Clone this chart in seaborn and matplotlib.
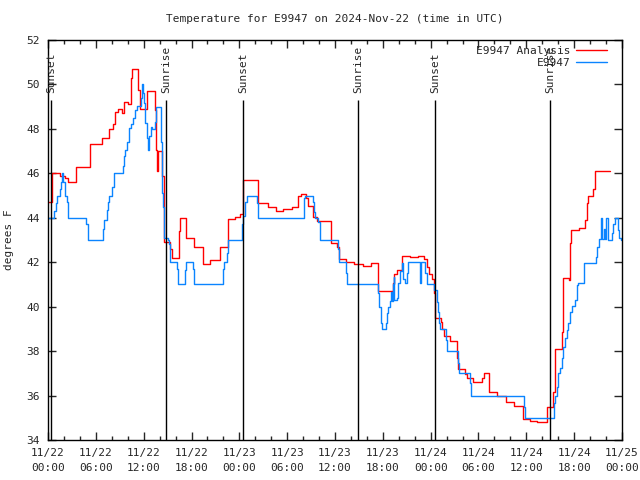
import matplotlib
matplotlib.use("Agg")
import matplotlib.pyplot as plt
import pandas as pd
import seaborn as sns

# hours after 2024-11-22 00:00 UTC, temperature in F
analysis_hours = [0, 0.46, 1.5, 2.13, 2.5, 3.5, 5.27, 6.77, 7.65, 8.15, 8.4, 8.78, 9.28, 9.53,
                  10.0, 10.4, 10.54, 11.29, 11.54, 12.42, 13.42, 13.55, 13.67, 13.8, 14.3, 14.55,
                  15.3, 15.55, 16.43, 16.56, 17.31, 18.31, 19.44, 20.32, 21.58, 22.58, 23.46,
                  24.08, 24.46, 26.34, 27.59, 28.6, 29.48, 30.61, 31.36, 31.74, 32.36, 32.61,
                  33.24, 33.74, 35.5, 36.25, 36.5, 37.38, 38.38, 39.51, 40.52, 41.39, 43.28,
                  43.4, 43.78, 44.4, 45.41, 46.41, 47.16, 47.54, 47.79, 48.17, 48.42, 48.54,
                  49.3, 49.42, 49.67, 50.43, 51.3, 51.43, 52.31, 52.56, 53.31, 54.44, 54.69,
                  55.32, 56.32, 57.45, 58.46, 59.58, 60.46, 61.34, 62.6, 63.35, 63.6, 64.47,
                  64.55, 64.6, 65.35, 65.48, 65.61, 66.61, 67.36, 67.61, 67.74, 68.37, 68.61,
                  70.5]
analysis_temp = [44.7, 46.0, 45.9, 45.8, 45.6, 46.3, 47.3, 47.6, 48.0, 48.2, 48.75, 48.9, 48.7, 49.2,
                 49.1, 50.3, 50.7, 49.75, 48.9, 49.7, 48.85, 47.05, 46.1, 47.0, 45.9, 42.9,
                 42.6, 42.2, 43.4, 44.0, 43.1, 42.7, 41.9, 42.1, 42.7, 43.95, 44.05,
                 44.15, 45.7, 44.66, 44.5, 44.3, 44.4, 44.5, 45.0, 45.07, 44.9, 44.55,
                 44.05, 43.87, 42.88, 42.68, 42.14, 42.0, 41.9, 41.85, 41.95, 40.7, 41.06,
                 41.47, 41.65, 42.28, 42.23, 42.28, 42.14, 41.8, 41.47, 41.24, 40.6, 39.5,
                 39.3, 39.0, 38.7, 38.45, 37.7, 37.2, 36.97, 36.8, 36.6, 36.8, 37.0,
                 36.15, 36.0, 35.7, 35.55, 34.95, 34.85, 34.8, 35.5, 36.15, 38.1, 38.85,
                 40.5, 41.3, 41.2, 42.87, 43.45, 43.53, 43.9, 44.66, 45.0, 45.3, 46.1,
                 46.1]

obs_hours = [0, 0.75, 1.0, 1.13, 1.5, 1.63, 1.76, 1.88, 2.13, 2.38, 2.5, 4.77, 5.0, 6.9, 7.0, 7.4,
             7.5, 7.65, 8.0, 8.28, 9.4, 9.5, 9.66, 9.9, 10.16, 10.4, 10.66, 10.9, 11.16, 11.67,
             11.79, 11.92, 12.04, 12.17, 12.42, 12.54, 12.67, 12.92, 13.05, 13.42, 13.55, 14.17,
             14.3, 14.43, 14.55, 15.05, 15.18, 15.3, 16.18, 16.31, 17.19, 17.31, 18.19, 18.31,
             21.95, 22.08, 22.45, 22.58, 24.34, 24.46, 24.71, 24.96, 26.22, 26.34, 32.11, 32.24,
             33.24, 33.37, 33.49, 33.87, 34.12, 36.38, 36.45, 36.5, 37.38, 37.51, 41.39, 41.52,
             41.77, 41.9, 42.4, 42.52, 42.65, 42.9, 43.03, 43.15, 43.28, 43.35, 43.4, 43.78, 43.9,
             44.15, 44.4, 44.53, 44.78, 45.03, 45.16, 46.66, 46.79, 47.29, 47.54, 48.42, 48.8,
             48.92, 49.05, 49.17, 49.92, 50.05, 51.43, 51.56, 52.94, 53.06, 59.71, 59.83, 63.47,
             63.6, 63.85, 63.97, 64.22, 64.47, 64.6, 64.85, 65.1, 65.23, 65.48, 65.73, 66.11,
             66.36, 66.48, 67.24, 68.74, 68.87, 69.12, 69.37, 69.49, 69.75, 69.87, 70.0, 70.25,
             70.75, 70.87, 71.12, 71.5, 71.62, 71.87]
obs_temp = [44.0, 44.3, 44.66, 45.0, 45.3, 45.6, 46.0, 45.6, 45.0, 44.7, 44.0, 43.7, 43.0, 43.5, 43.9, 44.34,
            44.7, 45.0, 45.4, 46.0, 46.33, 46.8, 47.05, 47.4, 48.03, 48.2, 48.5, 48.85, 49.03, 49.4,
            50.0, 49.6, 49.15, 48.26, 47.6, 47.05, 47.7, 48.1, 48.0, 48.3, 49.0, 47.4,
            45.1, 44.5, 43.1, 43.0, 42.8, 42.0, 41.7, 41.0, 41.65, 42.0, 41.7, 41.0,
            41.7, 42.0, 42.4, 43.0, 43.7, 44.1, 44.7, 45.0, 44.66, 44.0, 44.9, 45.0,
            44.7, 44.27, 44.0, 43.8, 43.0, 42.6, 42.3, 42.0, 41.5, 41.0, 40.6, 40.0,
            39.26, 39.0, 39.26, 39.7, 40.0, 40.25, 40.66, 40.25, 41.0, 41.35, 40.3, 40.38, 41.06,
            41.6, 41.95, 41.25, 41.06, 41.5, 42.0, 41.06, 42.0, 41.5, 41.0, 40.75, 40.2,
            39.76, 39.27, 39.0, 38.5, 38.0, 37.47, 37.0, 36.56, 36.0, 35.5, 35.0, 35.66,
            36.0, 36.4, 37.0, 37.24, 37.7, 38.17, 38.6, 38.95, 39.26, 39.76, 40.03, 40.3,
            40.97, 41.06, 41.97, 42.24, 42.7, 43.04, 44.0, 43.04, 43.5, 43.04, 44.0, 43.0,
            43.3, 43.7, 44.0, 43.45, 43.08, 43.0]

sun_hours = [0.38, 14.8, 24.46, 38.9, 48.55, 62.97]
sun_labels = ["Sunset", "Sunrise", "Sunset", "Sunrise", "Sunset", "Sunrise"]

tick_hours = list(range(0, 73, 6))
tick_labels = ["11/22\n00:00", "11/22\n06:00", "11/22\n12:00", "11/22\n18:00",
               "11/23\n00:00", "11/23\n06:00", "11/23\n12:00", "11/23\n18:00",
               "11/24\n00:00", "11/24\n06:00", "11/24\n12:00", "11/24\n18:00",
               "11/25\n00:00"]

sns.set_style("ticks")
plt.rcParams['font.family'] = ['DejaVu Sans Mono']
plt.rcParams['font.size'] = 8

fig = plt.figure(figsize=(6.4, 4.8), dpi=100)
ax = fig.add_axes([48 / 640, 40 / 480, 574 / 640, 400 / 480])

analysis = pd.DataFrame({'hour': analysis_hours, 'temp': analysis_temp})
obs = pd.DataFrame({'hour': obs_hours, 'temp': obs_temp})

sns.lineplot(data=analysis, x='hour', y='temp', ax=ax, color='#ff0000', lw=1,
             drawstyle='steps-post', estimator=None, label='E9947 Analysis')
sns.lineplot(data=obs, x='hour', y='temp', ax=ax, color='#0a84ff', lw=1,
             drawstyle='steps-post', estimator=None, label='E9947')

for h, lab in zip(sun_hours, sun_labels):
    ax.vlines(h, 34, 49.3, color='black', lw=1)
    ax.text(h, 49.6, lab, rotation=90, ha='center', va='bottom', fontsize=8)

ax.set_xlim(0, 72)
ax.set_ylim(34, 52)
ax.set_xticks(tick_hours)
ax.set_xticklabels(tick_labels, linespacing=1.6)
ax.set_xticks(range(0, 73, 2), minor=True)
ax.set_yticks(range(34, 53, 2))
ax.tick_params(direction='in', top=True, right=True, length=6, width=1, labelsize=8, pad=6)
ax.tick_params(which='minor', direction='in', top=True, length=3, width=1)
for s in ax.spines.values():
    s.set_linewidth(1)
    s.set_color('black')

ax.set_xlabel('')
ax.set_ylabel('degrees F', fontsize=8, labelpad=9)
ax.set_title('Temperature for E9947 on 2024-Nov-22 (time in UTC)', fontsize=8, pad=13)

ax.legend(loc='upper right', frameon=False, markerfirst=False, fontsize=8,
          handlelength=2.8, borderaxespad=0.15, labelspacing=0.15, handletextpad=0.5,
          bbox_to_anchor=(0.985, 1.0))

fig.savefig('out.png', dpi=100)
